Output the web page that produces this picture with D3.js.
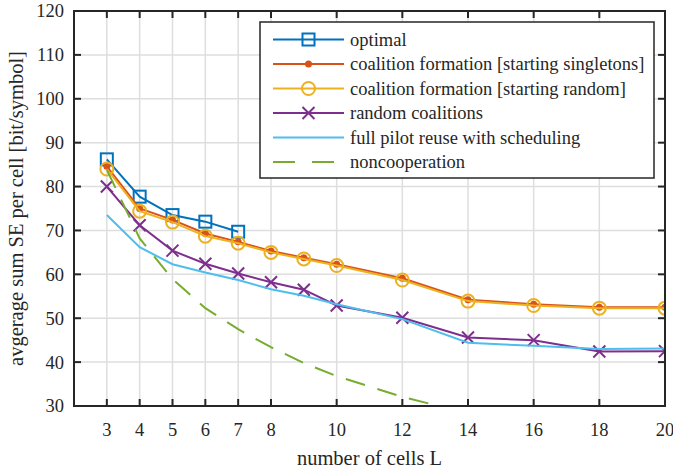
<!DOCTYPE html>
<html>
<head>
<meta charset="utf-8">
<script src="https://cdn.jsdelivr.net/npm/d3@7"></script>
<style>
  body { margin: 0; background: #fff; }
  text { font-family: "Liberation Serif", "Times New Roman", serif; fill: #262626; }
</style>
</head>
<body>
<div id="chart"></div>
<script>
// data
var cellsFull = [3, 4, 5, 6, 7, 8, 9, 10, 12, 14, 16, 18, 20];
var cellsOpt = [3, 4, 5, 6, 7];
var cellsNonCoop = [3, 4, 5, 6, 7, 8, 9, 10, 12, 14];
var xTicks = [3, 4, 5, 6, 7, 8, 10, 12, 14, 16, 18, 20];
var yTicks = [30, 40, 50, 60, 70, 80, 90, 100, 110, 120];

var optimal = [86.2, 77.7, 73.5, 72.0, 69.7];
var cfSingletons = [84.6, 75.0, 72.4, 69.3, 67.4, 65.3, 63.8, 62.3, 59.1, 54.2, 53.2, 52.5, 52.5];
var cfRandom = [84.0, 74.4, 71.9, 68.7, 67.1, 65.0, 63.5, 62.0, 58.7, 53.9, 52.9, 52.3, 52.3];
var randomCoal = [80.0, 71.2, 65.4, 62.4, 60.2, 58.2, 56.5, 52.9, 50.1, 45.6, 45.0, 42.4, 42.5];
var fullReuse = [73.5, 66.2, 62.3, 60.4, 58.7, 56.6, 55.1, 53.2, 49.8, 44.4, 43.7, 43.0, 43.1];
var nonCoop = [83.8, 68.2, 58.9, 52.3, 47.5, 43.4, 39.8, 36.8, 32.1, 28.3];

var labels = ["optimal", "coalition formation [starting singletons]", "coalition formation [starting random]",
  "random coalitions", "full pilot reuse with scheduling", "noncooperation"];
var colors = ["#0072BD", "#D95319", "#EDB120", "#7E2F8E", "#4DBEEE", "#77AC30"];
var markers = ["square", "dot", "circle", "cross", "none", "none"];

var series = [
  { x: cellsOpt, y: optimal },
  { x: cellsFull, y: cfSingletons },
  { x: cellsFull, y: cfRandom },
  { x: cellsFull, y: randomCoal },
  { x: cellsFull, y: fullReuse },
  { x: cellsNonCoop, y: nonCoop }
];

var W = 673, H = 473;
var pLeft = 74, pRight = 665, pTop = 11, pBottom = 406;

var svg = d3.select("#chart").append("svg")
  .attr("width", W)
  .attr("height", H);

var x = d3.scaleLinear().domain([2, 20]).range([pLeft, pRight]);
var y = d3.scaleLinear().domain([30, 120]).range([pBottom, pTop]);

// grid
svg.append("g").selectAll("line").data(xTicks).enter().append("line")
  .attr("x1", d => x(d)).attr("x2", d => x(d))
  .attr("y1", pTop).attr("y2", pBottom)
  .attr("stroke", "#dedede").attr("stroke-width", 1.5);
svg.append("g").selectAll("line").data(yTicks).enter().append("line")
  .attr("x1", pLeft).attr("x2", pRight)
  .attr("y1", d => y(d)).attr("y2", d => y(d))
  .attr("stroke", "#dedede").attr("stroke-width", 1.5);

svg.append("clipPath").attr("id", "clip")
  .append("rect").attr("x", pLeft).attr("y", pTop)
  .attr("width", pRight - pLeft).attr("height", pBottom - pTop);

var plot = svg.append("g").attr("clip-path", "url(#clip)");

function drawMarker(g, kind, color, cx, cy) {
  if (kind == "square") {
    g.append("rect").attr("x", cx - 6).attr("y", cy - 6).attr("width", 12).attr("height", 12)
      .attr("fill", "none").attr("stroke", color).attr("stroke-width", 2);
  } else if (kind == "circle") {
    g.append("circle").attr("cx", cx).attr("cy", cy).attr("r", 6.5)
      .attr("fill", "none").attr("stroke", color).attr("stroke-width", 2);
  } else if (kind == "dot") {
    g.append("circle").attr("cx", cx).attr("cy", cy).attr("r", 3.5)
      .attr("fill", color);
  } else if (kind == "cross") {
    g.append("path").attr("d", `M${cx - 6},${cy - 6}L${cx + 6},${cy + 6}M${cx - 6},${cy + 6}L${cx + 6},${cy - 6}`)
      .attr("fill", "none").attr("stroke", color).attr("stroke-width", 2);
  }
}

var line = d3.line().x(d => x(d[0])).y(d => y(d[1]));

series.forEach(function(s, i) {
  var pts = s.x.map((v, j) => [v, s.y[j]]);
  var p = plot.append("path")
    .attr("d", line(pts))
    .attr("fill", "none")
    .attr("stroke", colors[i])
    .attr("stroke-width", 2);
  if (i == 5) p.attr("stroke-dasharray", "20,13");
  var g = plot.append("g");
  pts.forEach(function(d) { drawMarker(g, markers[i], colors[i], x(d[0]), y(d[1])); });
});

// box and ticks
var axisG = svg.append("g");
axisG.append("rect")
  .attr("x", pLeft).attr("y", pTop)
  .attr("width", pRight - pLeft).attr("height", pBottom - pTop)
  .attr("fill", "none").attr("stroke", "#262626").attr("stroke-width", 2);

xTicks.forEach(function(t) {
  axisG.append("line").attr("x1", x(t)).attr("x2", x(t)).attr("y1", pBottom).attr("y2", pBottom - 7)
    .attr("stroke", "#262626").attr("stroke-width", 2);
  axisG.append("line").attr("x1", x(t)).attr("x2", x(t)).attr("y1", pTop).attr("y2", pTop + 7)
    .attr("stroke", "#262626").attr("stroke-width", 2);
  axisG.append("text").attr("x", x(t)).attr("y", 436)
    .style("text-anchor", "middle").style("font-size", "18.5px").text(t);
});
yTicks.forEach(function(t) {
  axisG.append("line").attr("x1", pLeft).attr("x2", pLeft + 7).attr("y1", y(t)).attr("y2", y(t))
    .attr("stroke", "#262626").attr("stroke-width", 2);
  axisG.append("line").attr("x1", pRight).attr("x2", pRight - 7).attr("y1", y(t)).attr("y2", y(t))
    .attr("stroke", "#262626").attr("stroke-width", 2);
  axisG.append("text").attr("x", pLeft - 10).attr("y", y(t)).attr("dy", "0.35em")
    .style("text-anchor", "end").style("font-size", "18.5px").text(t);
});

svg.append("text")
  .attr("x", (pLeft + pRight) / 2).attr("y", 465)
  .style("text-anchor", "middle").style("font-size", "20.5px")
  .text("number of cells L");

svg.append("text")
  .attr("transform", `translate(23,${(pTop + pBottom) / 2}) rotate(-90)`)
  .style("text-anchor", "middle").style("font-size", "20.5px")
  .text("avgerage sum SE per cell [bit/symbol]");

// legend
var lg = svg.append("g");
lg.append("rect")
  .attr("x", 260).attr("y", 22).attr("width", 394).attr("height", 156)
  .attr("fill", "#fff").attr("stroke", "#262626").attr("stroke-width", 1.5);
labels.forEach(function(l, i) {
  var ly = 39.5 + i * 24.5;
  var ln = lg.append("line").attr("x1", 273).attr("x2", 344).attr("y1", ly).attr("y2", ly)
    .attr("stroke", colors[i]).attr("stroke-width", 2);
  if (i == 5) ln.attr("stroke-dasharray", "22,17");
  drawMarker(lg, markers[i], colors[i], 308.5, ly);
  lg.append("text").attr("x", 350).attr("y", ly).attr("dy", "0.35em")
    .style("font-size", "18.5px").text(l);
});
</script>
</body>
</html>
